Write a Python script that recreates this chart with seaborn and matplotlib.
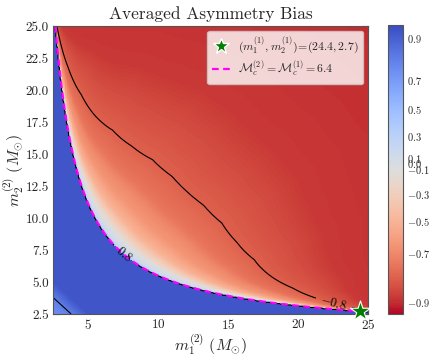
import numpy as np
import matplotlib
matplotlib.use("Agg")
import matplotlib.pyplot as plt
import seaborn as sns
from matplotlib.colors import FuncNorm
from matplotlib.lines import Line2D

# injection point and its chirp mass
inj_m1, inj_m2 = 24.4, 2.7
mc_inj = 6.4

# chirp mass of the -0.8 contour, vs mass ratio
q_knots = [0.10, 0.165, 0.23, 0.40, 0.52, 0.66, 0.83, 1.00]
mc_contour = [6.42, 7.15, 7.80, 9.10, 9.70, 10.25, 10.50, 10.50]

# bias vs normalised distance above the Mc = 6.4 curve
r_knots = [0.0, 0.03, 0.15, 0.26, 0.43, 0.67, 1.0, 2.0, 5.0]
bias_above = [0.45, 0.18, -0.25, -0.50, -0.65, -0.75, -0.80, -0.88, -0.92]

# bias below the curve vs total mass (small dip in the corner)
mtot_knots = [5.0, 6.3, 7.5, 60.0]
bias_below = [0.74, 0.80, 0.93, 0.93]

# colourbar ticks and where they sit on the bar (fraction from bottom)
cbar_ticks = [-0.9, -0.7, -0.5, -0.3, -0.1, 0.0, 0.1, 0.3, 0.5, 0.7, 0.9]
norm_vals = [-0.947, -0.9, -0.7, -0.5, -0.3, -0.1, 0.0, 0.1, 0.3, 0.5, 0.7, 0.9, 0.962]
norm_frac = [0.0, 0.04, 0.211, 0.321, 0.416, 0.5, 0.521, 0.541, 0.616, 0.711, 0.81, 0.955, 1.0]

# grid
m1 = np.linspace(2.5, 25, 450)
m2 = np.linspace(2.5, 25, 450)
M1, M2 = np.meshgrid(m1, m2)
Mc = (M1 * M2) ** 0.6 / (M1 + M2) ** 0.2
q = np.clip(np.minimum(M1, M2) / np.maximum(M1, M2), 0.1, 1.0)
mcc = np.maximum(np.interp(q, q_knots, mc_contour) - mc_inj, 0.02)
r = (Mc - mc_inj) / mcc
V = np.where(Mc > mc_inj,
             np.interp(r, r_knots, bias_above),
             np.interp(M1 + M2, mtot_knots, bias_below))

sns.set_style("ticks")
plt.rcParams["font.family"] = ["serif"]
plt.rcParams["font.serif"] = ["cmr10", "DejaVu Serif"]
plt.rcParams["mathtext.fontset"] = "cm"
plt.rcParams["axes.formatter.use_mathtext"] = True
plt.rcParams["axes.unicode_minus"] = True

norm = FuncNorm((lambda v: np.interp(np.asarray(v, float), norm_vals, norm_frac),
                 lambda f: np.interp(np.asarray(f, float), norm_frac, norm_vals)),
                vmin=norm_vals[0], vmax=norm_vals[-1])

fig = plt.figure(figsize=(4.36, 3.57), dpi=100)
ax = fig.add_axes([53 / 436, 1 - 314 / 357, 315 / 436, 288 / 357])
cax = fig.add_axes([388 / 436, 1 - 314 / 357, 15 / 436, 289 / 357])

mesh = ax.pcolormesh(M1, M2, V, cmap="coolwarm_r", norm=norm, shading="auto",
                     rasterized=True)

cs = ax.contour(M1, M2, V, levels=[-0.8, 0.8], colors="black", linewidths=0.8,
                linestyles="solid")
ax.clabel(cs, fmt=lambda v: f"${v:.1f}$", fontsize=9, inline=True,
          manual=[(7.6, 7.2), (22.6, 3.5)])

ax.contour(M1, M2, Mc, levels=[mc_inj], colors="magenta", linewidths=1.6,
           linestyles=[(0, (3, 2))])

sns.scatterplot(x=[inj_m1], y=[inj_m2], marker="*", s=230, color="green",
                edgecolor="white", linewidth=0.8, zorder=6, clip_on=False, ax=ax)

ax.set_xlim(2.5, 25)
ax.set_ylim(2.5, 25)
ax.set_xticks([5, 10, 15, 20, 25])
ax.set_yticks(np.arange(2.5, 25.1, 2.5))
ax.set_yticklabels([f"{v:.1f}" for v in np.arange(2.5, 25.1, 2.5)])
ax.tick_params(direction="in", top=True, right=True, labelsize=9.5, length=4,
               width=0.8, pad=3)
for s in ax.spines.values():
    s.set_color("#555555")
ax.set_xlabel(r"$m_1^{(2)}\ (M_{\odot})$", fontsize=11.5, labelpad=0)
ax.set_ylabel(r"$m_2^{(2)}\ (M_{\odot})$", fontsize=11.5, labelpad=0)
ax.set_title("Averaged Asymmetry Bias", fontsize=12.5, pad=5)

handles = [
    Line2D([], [], marker="*", color="green", markeredgecolor="white",
           markersize=12, linestyle="none"),
    Line2D([], [], color="magenta", linestyle=(0, (3, 2)), linewidth=1.6),
]
labels = [r"$(m_1^{(1)}, m_2^{(1)})\!=\!(24.4, 2.7)$",
          r"$\mathcal{M}_c^{(2)} = \mathcal{M}_c^{(1)} = 6.4$"]
leg = ax.legend(handles, labels, loc="upper right", fontsize=8.5,
                framealpha=0.8, borderpad=0.4, handlelength=1.6,
                handletextpad=0.6, labelspacing=0.3, borderaxespad=0.4)
leg.get_frame().set_edgecolor("#cccccc")

cb = fig.colorbar(mesh, cax=cax)
cb.set_ticks(cbar_ticks)
cb.set_ticklabels([f"${v:.1f}$" for v in cbar_ticks])
cb.ax.tick_params(direction="in", labelsize=7.5, length=4, width=0.8, pad=3)
cb.minorticks_off()
cb.outline.set_edgecolor("#555555")

fig.savefig("out.png", dpi=100)
